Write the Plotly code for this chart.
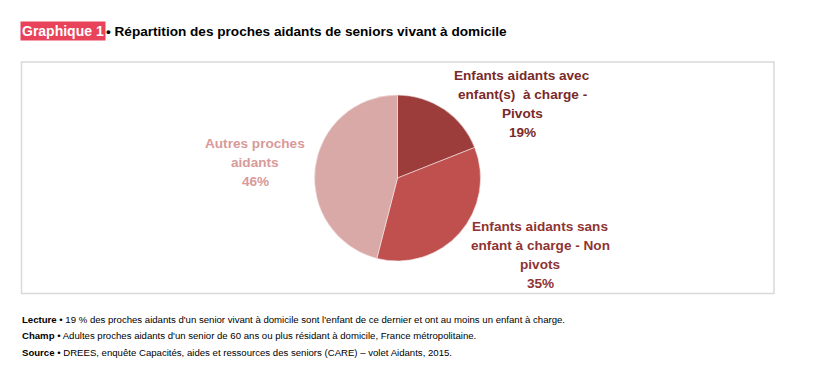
import plotly.graph_objects as go

categories = [
    "Enfants aidants avec<br>enfant(s)  à charge -<br>Pivots",
    "Enfants aidants sans<br>enfant à charge - Non<br>pivots",
    "Autres proches<br>aidants",
]
values = [19, 35, 46]
slice_colors = ["#9C3D3C", "#C0504E", "#D9A9A8"]
label_colors = ["#7A2A2A", "#8E3432", "#D89A99"]

# page body has an 8px margin: figure occupies 800x359 starting at (8, 8)
OFF = 8
W, H = 800, 359

def px(x):
    return (x - OFF) / W

def py(y):
    return 1 - (y - OFF) / H

fig = go.Figure()
fig.add_trace(go.Pie(
    labels=[c.replace("<br>", " ") for c in categories],
    values=values,
    sort=False,
    direction="clockwise",
    rotation=0,
    marker=dict(colors=slice_colors, line=dict(color="#F2E6E6", width=0.6)),
    textinfo="none",
    hoverinfo="label+percent",
    showlegend=False,
    domain=dict(x=[px(314.5), px(480.5)], y=[py(261), py(95)]),
))

# (center x, first-line y) for each label block
label_pos = [(522, 75), (540, 226), (255, 143)]
LINE = 19.2
annotations = []
for cat, v, col, (lx, ly) in zip(categories, values, label_colors, label_pos):
    lines = cat.split("<br>") + [f"{v}%"]
    for j, ln in enumerate(lines):
        annotations.append(dict(
            x=px(lx), y=py(ly + j * LINE), xref="paper", yref="paper",
            text=f"<b>{ln}</b>", showarrow=False,
            xanchor="center", yanchor="middle", align="center",
            font=dict(family="Liberation Sans, Arial", size=13.6, color=col),
        ))

# Title
annotations.append(dict(
    x=px(20), y=py(31), xref="paper", yref="paper",
    text="<b>Graphique 1</b>", showarrow=False, xanchor="left", yanchor="middle",
    bgcolor="#E8435A", borderpad=1,
    font=dict(family="Liberation Sans, Arial", size=14, color="white"),
))
annotations.append(dict(
    x=px(104), y=py(31), xref="paper", yref="paper",
    text="<b>• Répartition des proches aidants de seniors vivant à domicile</b>",
    showarrow=False, xanchor="left", yanchor="middle",
    font=dict(family="Liberation Sans, Arial", size=13.6, color="black"),
))

notes = [
    ("Lecture", "19 % des proches aidants d'un senior vivant à domicile sont l'enfant de ce dernier et ont au moins un enfant à charge."),
    ("Champ", "Adultes proches aidants d'un senior de 60 ans ou plus résidant à domicile, France métropolitaine."),
    ("Source", "DREES, enquête Capacités, aides et ressources des seniors (CARE) – volet Aidants, 2015."),
]
for i, (k, t) in enumerate(notes):
    annotations.append(dict(
        x=px(20), y=py(319 + i * 16.5), xref="paper", yref="paper",
        text=f"<b>{k}</b> • {t}", showarrow=False, xanchor="left", yanchor="middle",
        font=dict(family="Liberation Sans, Arial", size=9.6, color="black"),
    ))

fig.update_layout(
    width=W, height=H,
    margin=dict(l=0, r=0, t=0, b=0),
    paper_bgcolor="white", plot_bgcolor="white",
    annotations=annotations,
    shapes=[dict(type="rect", xref="paper", yref="paper",
                 x0=px(21.5), x1=px(774), y0=py(293.5), y1=py(62),
                 line=dict(color="#D9D9D9", width=1.5), fillcolor="rgba(0,0,0,0)",
                 layer="below")],
)

fig.write_html("out.html")
